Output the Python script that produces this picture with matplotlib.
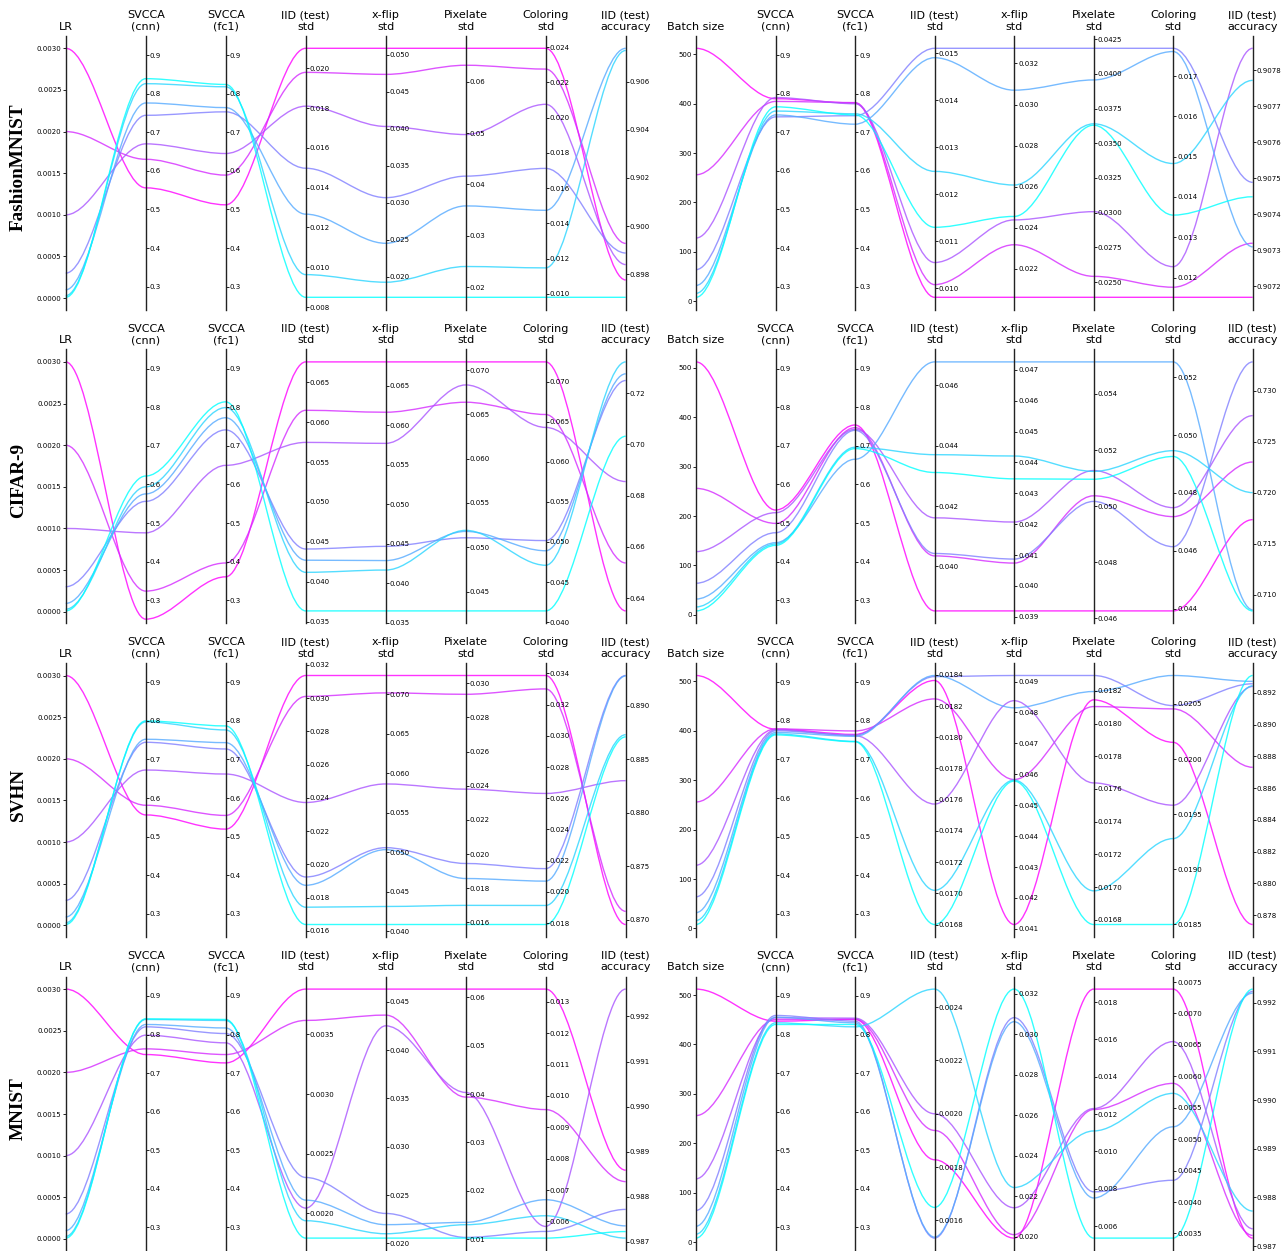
import numpy as np
import matplotlib
matplotlib.use("Agg")
import matplotlib.pyplot as plt
import matplotlib.patches as patches
from matplotlib.path import Path
from matplotlib.ticker import ScalarFormatter

# column headers
lr_names = ["LR", "SVCCA\n(cnn)", "SVCCA\n(fc1)", "IID (test)\nstd", "x-flip\nstd",
            "Pixelate\nstd", "Coloring\nstd", "IID (test)\naccuracy"]
bs_names = ["Batch size"] + lr_names[1:]
datasets = ["FashionMNIST", "CIFAR-9", "SVHN", "MNIST"]

# rows: [hyperparam, svcca cnn, svcca fc1, iid std, xflip std, pixelate std, coloring std, iid acc]
fmnist_lr = [
    [0.003, 0.556, 0.512, 0.02101, 0.0509, 0.0665, 0.02394, 0.89776],
    [0.002, 0.630, 0.589, 0.0198, 0.04737, 0.0632, 0.02276, 0.89928],
    [0.001, 0.670, 0.645, 0.0181, 0.04032, 0.0497, 0.02076, 0.8984],
    [0.0003, 0.744, 0.753, 0.01498, 0.03068, 0.0416, 0.01712, 0.89888],
    [0.0001, 0.776, 0.764, 0.01267, 0.0245, 0.0358, 0.01474, 0.90739],
    [0.00003, 0.826, 0.818, 0.00963, 0.01923, 0.024, 0.01147, 0.9073],
    [0.00001, 0.839, 0.824, 0.00849, 0.01719, 0.018, 0.0098, 0.89704],
]
fmnist_bs = [
    [512, 0.787, 0.776, 0.00981, 0.02061, 0.0239, 0.01151, 0.90717],
    [256, 0.780, 0.777, 0.01008, 0.02317, 0.02541, 0.01176, 0.90732],
    [128, 0.790, 0.774, 0.01055, 0.02438, 0.03007, 0.01227, 0.907861],
    [64, 0.740, 0.743, 0.01511, 0.03274, 0.04184, 0.01769, 0.907489],
    [32, 0.745, 0.721, 0.01491, 0.0307, 0.03956, 0.01761, 0.90731],
    [16, 0.755, 0.748, 0.01249, 0.02608, 0.0364, 0.01483, 0.907772],
    [8, 0.766, 0.745, 0.0113, 0.02455, 0.0363, 0.01355, 0.907449],
]
cifar_lr = [
    [0.003, 0.2509, 0.3606, 0.06754, 0.06804, 0.07092, 0.07245, 0.63506],
    [0.002, 0.3236, 0.3965, 0.06148, 0.06167, 0.06637, 0.06589, 0.65376],
    [0.001, 0.4746, 0.6495, 0.05746, 0.05773, 0.06832, 0.06428, 0.68552],
    [0.0003, 0.5562, 0.7415, 0.04411, 0.0447, 0.05107, 0.05017, 0.72494],
    [0.0001, 0.5755, 0.7730, 0.04271, 0.0429, 0.05179, 0.0489, 0.72755],
    [0.00003, 0.5939, 0.7993, 0.04119, 0.0417, 0.05191, 0.04709, 0.7322],
    [0.00001, 0.6219, 0.8142, 0.03636, 0.03653, 0.04282, 0.0414, 0.7032],
]
cifar_bs = [
    [512, 0.5337, 0.7542, 0.03853, 0.03919, 0.04627, 0.04392, 0.71735],
    [256, 0.4991, 0.7473, 0.04035, 0.04074, 0.05037, 0.04718, 0.723],
    [128, 0.5268, 0.743, 0.04161, 0.04207, 0.05127, 0.04749, 0.72755],
    [64, 0.4749, 0.7404, 0.04043, 0.04087, 0.05017, 0.04614, 0.73282],
    [32, 0.449, 0.6654, 0.04677, 0.04726, 0.05514, 0.05253, 0.7085],
    [16, 0.4456, 0.6965, 0.0437, 0.04421, 0.05124, 0.04946, 0.720],
    [8, 0.4421, 0.693, 0.04311, 0.04347, 0.05096, 0.04926, 0.7084],
]
svhn_lr = [
    [0.003, 0.5563, 0.5195, 0.03136, 0.07237, 0.03045, 0.03387, 0.86954],
    [0.002, 0.5814, 0.555, 0.0301, 0.07017, 0.02935, 0.03301, 0.87077],
    [0.001, 0.6727, 0.6623, 0.02372, 0.05865, 0.0238, 0.02631, 0.883],
    [0.0003, 0.7446, 0.7273, 0.01924, 0.05059, 0.01945, 0.02149, 0.89284],
    [0.0001, 0.7524, 0.7437, 0.01874, 0.05034, 0.01857, 0.02069, 0.8928],
    [0.00003, 0.7974, 0.7766, 0.01742, 0.04315, 0.017, 0.01913, 0.8873],
    [0.00001, 0.8, 0.787, 0.01638, 0.04087, 0.01588, 0.01791, 0.8871],
]
svhn_bs = [
    [512, 0.7785, 0.765, 0.018364, 0.04114, 0.018145, 0.020152, 0.87741],
    [256, 0.7793, 0.774, 0.018246, 0.04583, 0.018104, 0.020455, 0.88731],
    [128, 0.777, 0.762, 0.017572, 0.04838, 0.017637, 0.019582, 0.8924],
    [64, 0.7745, 0.763, 0.018389, 0.049195, 0.018294, 0.020485, 0.89257],
    [32, 0.770, 0.760, 0.018396, 0.04815, 0.018196, 0.020758, 0.89272],
    [16, 0.7663, 0.747, 0.017019, 0.04581, 0.016977, 0.019279, 0.89244],
    [8, 0.7637, 0.746, 0.0168, 0.04578, 0.016771, 0.0185, 0.89309],
]
mnist_lr = [
    [0.003, 0.7481, 0.7264, 0.003881, 0.04631, 0.06172, 0.013404, 0.988589],
    [0.002, 0.7628, 0.7481, 0.003618, 0.04362, 0.03938, 0.009564, 0.988335],
    [0.001, 0.7983, 0.7784, 0.002042, 0.04251, 0.04034, 0.00584, 0.992607],
    [0.0003, 0.8199, 0.8026, 0.002299, 0.0231, 0.01034, 0.00568, 0.987719],
    [0.0001, 0.826, 0.817, 0.002109, 0.02194, 0.01345, 0.006691, 0.987353],
    [0.00003, 0.839, 0.8364, 0.001936, 0.021, 0.01297, 0.00618, 0.987082],
    [0.00001, 0.8407, 0.839, 0.00179, 0.02055, 0.0102, 0.005468, 0.987227],
]
mnist_bs = [
    [512, 0.8346, 0.839, 0.0018275, 0.01993, 0.0187, 0.007388, 0.987165],
    [256, 0.839, 0.840, 0.0019375, 0.0201, 0.01225, 0.005888, 0.98722],
    [128, 0.8433, 0.8424, 0.0020, 0.02143, 0.0123, 0.006553, 0.987357],
    [64, 0.8494, 0.8346, 0.0015338, 0.03082, 0.00784, 0.004346, 0.992234],
    [32, 0.845, 0.8303, 0.0015375, 0.03062, 0.00751, 0.005197, 0.992199],
    [16, 0.8303, 0.8199, 0.0024675, 0.02243, 0.0111, 0.005729, 0.987721],
    [8, 0.826, 0.826, 0.0016488, 0.03223, 0.00536, 0.003426, 0.992282],
]

# both SVCCA columns share a fixed range
svcca_lim = (0.24, 0.95)

W, H = 1288, 1251


def parallel_plot(fig, rect, data, names):
    ys = np.array(data, dtype=float)
    n, m = ys.shape
    ymins = ys.min(axis=0)
    ymaxs = ys.max(axis=0)
    dys = ymaxs - ymins
    ymins = ymins - dys * 0.05
    ymaxs = ymaxs + dys * 0.05
    for k in (1, 2):
        ymins[k], ymaxs[k] = svcca_lim
    dys = ymaxs - ymins

    # transform all data to the scale of the first axis
    zs = np.zeros_like(ys)
    zs[:, 0] = ys[:, 0]
    zs[:, 1:] = (ys[:, 1:] - ymins[1:]) / dys[1:] * dys[0] + ymins[0]

    host = fig.add_axes(rect)
    axes = [host] + [host.twinx() for i in range(m - 1)]
    for i, ax in enumerate(axes):
        ax.set_ylim(ymins[i], ymaxs[i])
        ax.spines["top"].set_visible(False)
        ax.spines["bottom"].set_visible(False)
        fmt = ScalarFormatter(useOffset=False)
        ax.yaxis.set_major_formatter(fmt)
        ax.tick_params(axis="y", labelsize=5, length=2, width=0.6, pad=1)
        if ax != host:
            ax.spines["left"].set_visible(False)
            ax.yaxis.set_ticks_position("right")
            ax.spines["right"].set_position(("axes", i / (m - 1)))
            ax.spines["right"].set_linewidth(1.0)
            ax.spines["right"].set_color("#222222")
        else:
            ax.spines["left"].set_linewidth(1.0)
            ax.spines["left"].set_color("#222222")

    host.set_xlim(0, m - 1)
    host.set_xticks(range(m))
    host.set_xticklabels(names, fontsize=8)
    host.tick_params(axis="x", which="major", length=0, pad=3)
    host.spines["right"].set_visible(False)
    host.xaxis.tick_top()

    colors = plt.cm.cool(np.linspace(0, 1, n))[::-1]
    for j in range(n):
        verts = list(zip(np.linspace(0, m - 1, m * 3 - 2), np.repeat(zs[j, :], 3)[1:-1]))
        codes = [Path.MOVETO] + [Path.CURVE4 for _ in range(len(verts) - 1)]
        path = Path(verts, codes)
        patch = patches.PathPatch(path, facecolor="none", lw=1, edgecolor=colors[j],
                                  alpha=0.8, clip_on=False)
        host.add_patch(patch)
    return host


def main():
    fig = plt.figure(figsize=(W / 100, H / 100), dpi=100)

    left_panels = [fmnist_lr, cifar_lr, svhn_lr, mnist_lr]
    right_panels = [fmnist_bs, cifar_bs, svhn_bs, mnist_bs]

    ax_h = 273.9
    for r in range(4):
        top = 35.85 + 313.6 * r
        bottom = 1 - (top + ax_h) / H
        parallel_plot(fig, [65.7 / W, bottom, 560 / W, ax_h / H], left_panels[r], lr_names)
        parallel_plot(fig, [696 / W, bottom, 556.7 / W, ax_h / H], right_panels[r], bs_names)
        yc = 1 - (top + ax_h / 2 - 5.5) / H
        fig.text(18.3 / W, yc, datasets[r], rotation=90, ha="center", va="center",
                 fontsize=13.8, fontweight="bold", family="Liberation Serif")

    fig.savefig("out.png", dpi=100)


if __name__ == "__main__":
    main()
